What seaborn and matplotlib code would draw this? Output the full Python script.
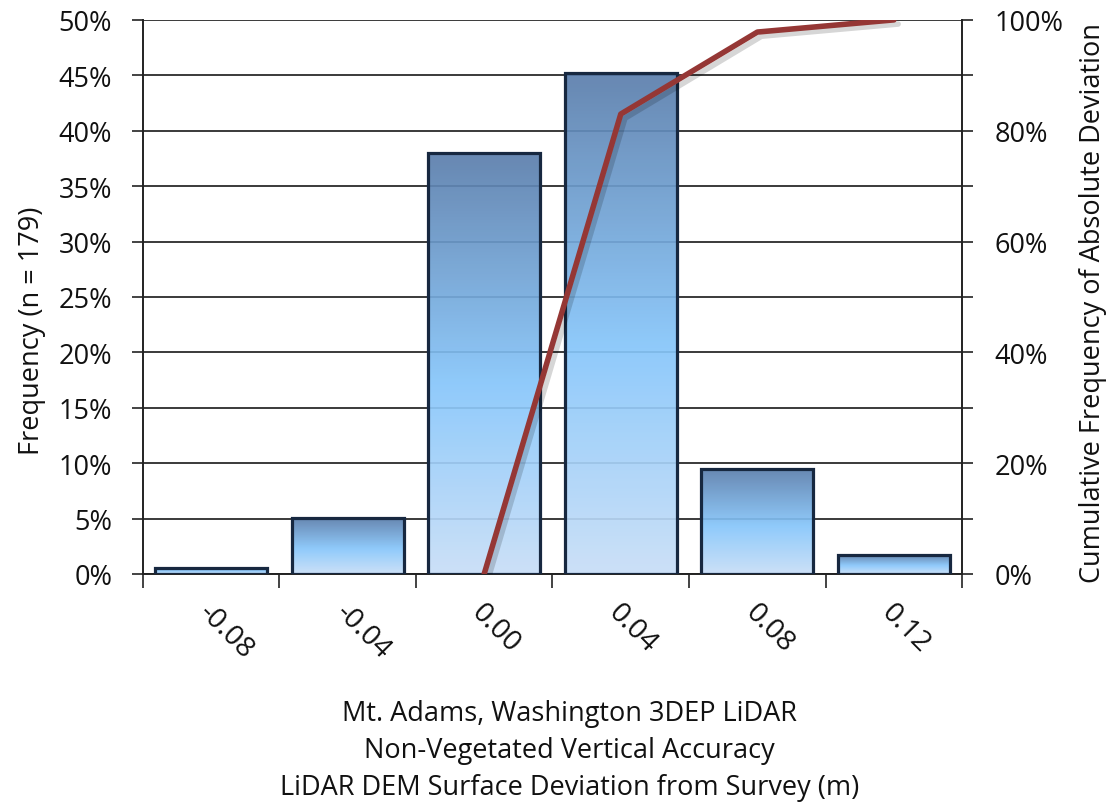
import numpy as np
import pandas as pd
import matplotlib
matplotlib.use("Agg")
import matplotlib.pyplot as plt
import matplotlib.patheffects as pe
from matplotlib.colors import LinearSegmentedColormap
from matplotlib.ticker import PercentFormatter, MultipleLocator
import seaborn as sns

# Histogram of surface deviation (percent of 179 checkpoints)
bins = ["-0.08", "-0.04", "0.00", "0.04", "0.08", "0.12"]
frequency_pct = [0.56, 5.03, 37.99, 45.25, 9.50, 1.68]

# Cumulative frequency of absolute deviation (percent)
cum_bins = ["0.00", "0.04", "0.08", "0.12"]
cumulative_pct = [0.0, 83.0, 97.8, 100.0]

x_title = ("Mt. Adams, Washington 3DEP LiDAR\n"
           "Non-Vegetated Vertical Accuracy\n"
           "LiDAR DEM Surface Deviation from Survey (m)")
y_title = "Frequency (n = 179)"
y2_title = "Cumulative Frequency of Absolute Deviation"

FS = 19.5
TXT = "#111111"
AXC = "#222222"

sns.set_theme(style="white")
plt.rcParams["font.family"] = ["Open Sans", "DejaVu Sans"]

fig = plt.figure(figsize=(11.15, 8.03), dpi=100)
ax = fig.add_axes([0.128, 0.284, 0.735, 0.690])

df = pd.DataFrame({"bin": bins, "freq": frequency_pct})
sns.barplot(data=df, x="bin", y="freq", order=bins, ax=ax, width=0.82,
            color="#7fb8ef", edgecolor="#172840", linewidth=2.3,
            saturation=1, zorder=3)

# Vertical gradient inside each bar
grad_cmap = LinearSegmentedColormap.from_list(
    "bar_grad", [(0.0, "#c8def7"), (0.45, "#86c6fb"), (1.0, "#5a7dab")])
gradient = np.linspace(0, 1, 256).reshape(-1, 1)
for bar in ax.patches:
    x0, y0 = bar.get_x(), bar.get_y()
    w, h = bar.get_width(), bar.get_height()
    bar.set_facecolor("none")
    im = ax.imshow(gradient, extent=(x0, x0 + w, y0, y0 + h), origin="lower",
                   aspect="auto", cmap=grad_cmap, alpha=0.92, zorder=2.9,
                   interpolation="bicubic")
    im.set_clip_path(bar)
    bar.set_zorder(3.1)

ax.set_xlim(-0.5, len(bins) - 0.5)
ax.set_ylim(0, 50)
ax.yaxis.set_major_locator(MultipleLocator(5))
ax.yaxis.set_major_formatter(PercentFormatter(decimals=0))
ax.grid(axis="y", color="#3a3a3a", linewidth=1.4, zorder=0)
ax.set_axisbelow(True)

# Category ticks sit between bins; labels go at bin centres
ax.set_xticks(np.arange(-0.5, len(bins)))
ax.set_xticklabels([])
ax.tick_params(axis="x", direction="out", length=10, width=1.2,
               color=AXC, bottom=True)
for i, lab in enumerate(bins):
    ax.text(i - 0.06, -0.062, lab, transform=ax.get_xaxis_transform(),
            rotation=-45, rotation_mode="anchor", ha="left", va="center",
            fontsize=20.5, color=TXT)

ax.tick_params(axis="y", direction="out", length=8, width=1.2, color=AXC,
               left=True, labelsize=FS, labelcolor=TXT, pad=14)
for side in ["left", "bottom"]:
    ax.spines[side].set_color(AXC)
    ax.spines[side].set_linewidth(1.4)
ax.spines["top"].set_visible(False)
ax.spines["right"].set_visible(False)

ax.set_xlabel(x_title, fontsize=FS, color=TXT, linespacing=1.42)
ax.xaxis.set_label_coords(0.521, -0.226)
ax.set_ylabel(y_title, fontsize=FS, color=TXT)
ax.yaxis.set_label_coords(-0.118, 0.44)

# Cumulative line on the secondary axis
ax2 = ax.twinx()
cum_pos = [bins.index(b) for b in cum_bins]
sns.lineplot(x=cum_pos, y=cumulative_pct, ax=ax2, color="#953735", linewidth=4.0,
             zorder=5,
             path_effects=[pe.SimpleLineShadow(offset=(3, -3), alpha=0.16,
                                               shadow_color="#000000"),
                           pe.Normal()])
ax2.set_xlim(-0.5, len(bins) - 0.5)
ax2.set_ylim(0, 100)
ax2.yaxis.set_major_locator(MultipleLocator(20))
ax2.yaxis.set_minor_locator(MultipleLocator(10))
ax2.yaxis.set_major_formatter(PercentFormatter(decimals=0))
ax2.tick_params(axis="y", which="both", direction="out", length=8, width=1.2,
                color=AXC, right=True, labelsize=FS, labelcolor=TXT, pad=15)
for side in ["left", "top", "bottom"]:
    ax2.spines[side].set_visible(False)
ax2.spines["right"].set_color(AXC)
ax2.spines["right"].set_linewidth(1.4)
ax2.set_ylabel(y2_title, fontsize=FS, color=TXT)
ax2.yaxis.set_label_coords(1.142, 0.49)
ax2.grid(False)

fig.savefig("out.png", dpi=100, facecolor="white")
